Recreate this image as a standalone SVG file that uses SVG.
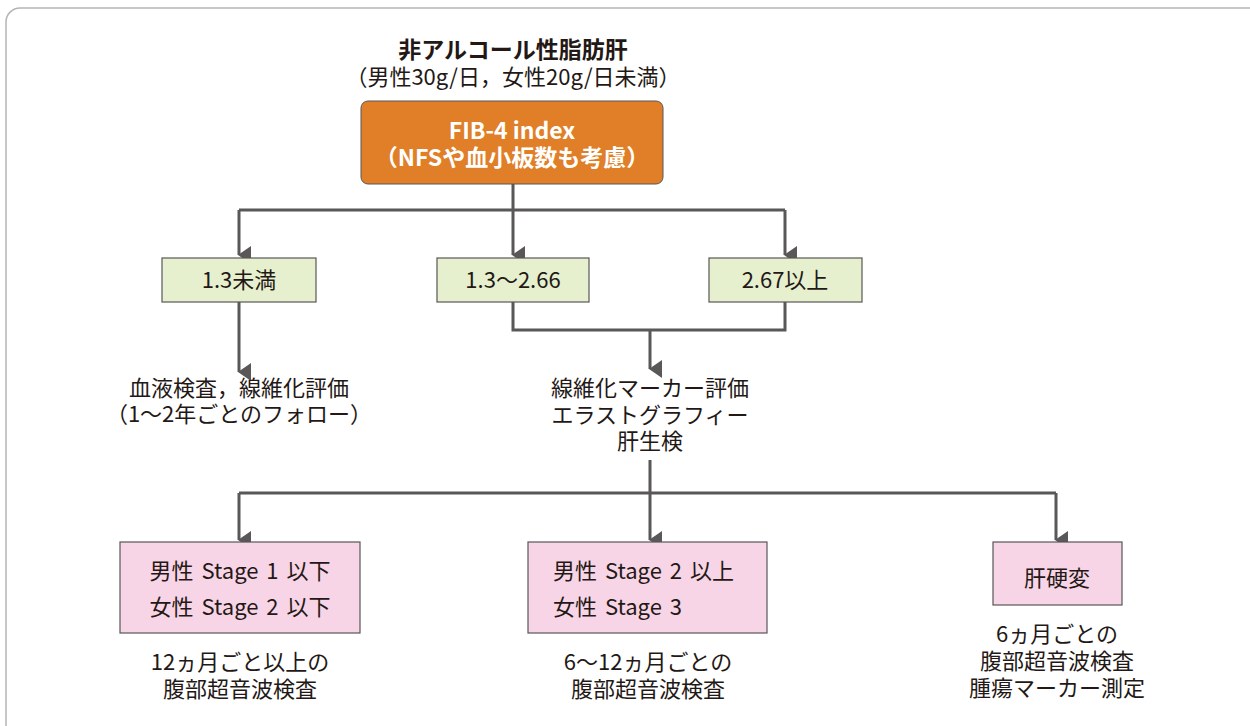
<svg xmlns="http://www.w3.org/2000/svg" width="1250" height="726" viewBox="0 0 1250 726">
<defs>
<style>
text{font-family:"Noto Sans CJK JP","Noto Sans",sans-serif;fill:#231815;text-anchor:middle;}
.t{font-size:22px;}
.b{font-size:22px;}
.s{font-size:22px;word-spacing:3px;}
.w{fill:#fff;font-weight:bold;font-size:23px;}
.ttl{font-weight:bold;font-size:23px;}
.sub{font-size:22px;}
.ln{fill:none;stroke:#595757;stroke-width:3;}
.g{fill:#e6efce;stroke:#595757;stroke-width:1.2;}
.p{fill:#f8d5e6;stroke:#595757;stroke-width:1.2;}
</style>
<marker id="ah" viewBox="0 0 18 13" refX="9" refY="12" markerWidth="18" markerHeight="13" markerUnits="userSpaceOnUse" orient="auto">
<path d="M0,0 L18,0 L9,13 Z" fill="#595757"/>
</marker>
</defs>
<rect x="0" y="0" width="1250" height="726" fill="#fff"/>
<rect x="6" y="8" width="1270" height="740" rx="14" fill="none" stroke="#b5b5b6" stroke-width="1.5"/>

<g id="title">
<text class="ttl" x="513" y="58">非アルコール性脂肪肝</text>
<text class="sub" x="513" y="85">（男性30g/日，女性20g/日未満）</text>
</g>

<g id="connectors">
<path class="ln" d="M513,184 V210 M239,210 H785"/>
<path class="ln" d="M239,210 V255" marker-end="url(#ah)"/>
<path class="ln" d="M513,210 V255" marker-end="url(#ah)"/>
<path class="ln" d="M785,210 V255" marker-end="url(#ah)"/>
<path class="ln" d="M239,302 V372" marker-end="url(#ah)"/>
<path class="ln" d="M513,302 V330 H785 V302"/>
<path class="ln" d="M650,330 V369" marker-end="url(#ah)"/>
<path class="ln" d="M650,460 V493 M239,493 H1056"/>
<path class="ln" d="M239,493 V540" marker-end="url(#ah)"/>
<path class="ln" d="M650,493 V540" marker-end="url(#ah)"/>
<path class="ln" d="M1056,493 V540" marker-end="url(#ah)"/>
</g>

<g id="fib4">
<rect x="361" y="101" width="302" height="83" rx="7" fill="#e07f27" stroke="#595757" stroke-width="1"/>
<text class="w" x="512" y="139">FIB-4 index</text>
<text class="w" x="512" y="166">（NFSや血小板数も考慮）</text>
</g>

<g id="low">
<rect class="g" x="162" y="258" width="154" height="44"/>
<text class="b" x="239" y="288">1.3未満</text>
</g>
<g id="mid">
<rect class="g" x="437" y="258" width="152" height="44"/>
<text class="b" x="513" y="288">1.3～2.66</text>
</g>
<g id="high">
<rect class="g" x="709" y="258" width="153" height="44"/>
<text class="b" x="785" y="288">2.67以上</text>
</g>

<g id="follow">
<text class="t" x="239" y="396">血液検査，線維化評価</text>
<text class="t" x="239" y="422">（1～2年ごとのフォロー）</text>
</g>
<g id="eval">
<text class="t" x="650" y="396">線維化マーカー評価</text>
<text class="t" x="650" y="423">エラストグラフィー</text>
<text class="t" x="650" y="449">肝生検</text>
</g>

<g id="stage1">
<rect class="p" x="120" y="542" width="240" height="91"/>
<text class="s" x="240" y="579">男性 Stage 1 以下</text>
<text class="s" x="240" y="615">女性 Stage 2 以下</text>
<text class="t" x="240" y="670">12ヵ月ごと以上の</text>
<text class="t" x="240" y="697">腹部超音波検査</text>
</g>
<g id="stage2">
<rect class="p" x="528" y="542" width="239" height="91"/>
<text class="s" x="553" y="579" style="text-anchor:start">男性 Stage 2 以上</text>
<text class="s" x="553" y="615" style="text-anchor:start">女性 Stage 3</text>
<text class="t" x="648" y="670">6～12ヵ月ごとの</text>
<text class="t" x="648" y="697">腹部超音波検査</text>
</g>
<g id="cirrhosis">
<rect class="p" x="993" y="542" width="129" height="63"/>
<text class="b" x="1057" y="586">肝硬変</text>
<text class="t" x="1057" y="642">6ヵ月ごとの</text>
<text class="t" x="1057" y="669">腹部超音波検査</text>
<text class="t" x="1057" y="696">腫瘍マーカー測定</text>
</g>
</svg>
